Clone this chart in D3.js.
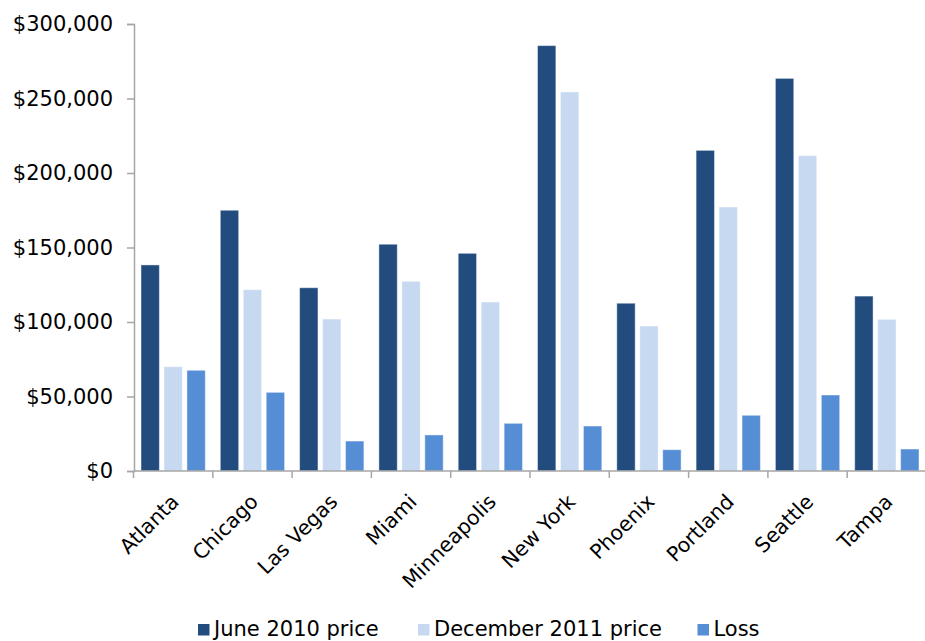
<!DOCTYPE html>
<html>
<head>
<meta charset="utf-8">
<script src="https://cdn.jsdelivr.net/npm/d3@7"></script>
<style>
  html, body { margin: 0; padding: 0; background: #fff; }
  svg { display: block; }
  text { font-family: "DejaVu Sans", Verdana, sans-serif; fill: #000; }
</style>
</head>
<body>
<svg id="chart" width="925" height="641"></svg>
<script>
const cities = ["Atlanta", "Chicago", "Las Vegas", "Miami", "Minneapolis", "New York", "Phoenix", "Portland", "Seattle", "Tampa"];
const seriesNames = ["June 2010 price", "December 2011 price", "Loss"];
const june2010 = [138300, 175000, 123000, 152200, 146100, 285500, 112600, 215200, 263500, 117400];
const dec2011 = [70000, 121700, 102000, 127300, 113400, 254400, 97300, 177200, 211600, 101800];
const loss = [67600, 52800, 20100, 24200, 32000, 30200, 14300, 37400, 51000, 14750];
const yTicks = [0, 50000, 100000, 150000, 200000, 250000, 300000];
const colors = ["#224B7E", "#C6D9F1", "#558ED5"];

const svg = d3.select("#chart");
const plotLeft = 134, plotRight = 926.5, plotTop = 24, plotBottom = 471;

const x0 = d3.scaleBand().domain(cities).range([plotLeft - 0.5, plotRight]).padding(0);
const bw = x0.bandwidth();
const x1 = d3.scaleBand().domain(seriesNames).range([7.5, bw - 7.5]).paddingInner(0.2);
const y = d3.scaleLinear().domain([0, 300000]).range([plotBottom, plotTop]);

const seriesData = [june2010, dec2011, loss];

// bars
seriesNames.forEach((s, si) => {
  svg.append("g").selectAll("rect").data(cities).join("rect")
    .attr("x", c => x0(c) + x1(s))
    .attr("y", (c, i) => y(seriesData[si][i]))
    .attr("width", x1.bandwidth())
    .attr("height", (c, i) => plotBottom - y(seriesData[si][i]))
    .attr("fill", colors[si])
    .attr("stroke", "rgba(255,255,255,0.45)")
    .attr("stroke-width", 1);
});

// y axis
const yAxis = d3.axisLeft(y).tickValues(yTicks).tickSize(7).tickPadding(14)
  .tickFormat(d => "$" + d3.format(",")(d));
const gy = svg.append("g").attr("transform", `translate(${plotLeft},0)`).call(yAxis);
gy.select(".domain").attr("stroke", "#A6A6A6").attr("stroke-width", 1.5);
gy.selectAll(".tick line").attr("stroke", "#A6A6A6").attr("stroke-width", 1.5);
gy.selectAll(".tick text").style("font-size", "21px").style("font-family", "DejaVu Sans");

// x axis baseline and ticks at band boundaries
const gx = svg.append("g");
gx.append("line").attr("x1", plotLeft).attr("x2", plotRight).attr("y1", plotBottom).attr("y2", plotBottom)
  .attr("stroke", "#A6A6A6").attr("stroke-width", 1.5);
const boundaries = cities.map(c => x0(c)).concat([x0(cities[cities.length - 1]) + bw]);
gx.selectAll("line.tk").data(boundaries).join("line").attr("class", "tk")
  .attr("x1", d => d).attr("x2", d => d).attr("y1", plotBottom).attr("y2", plotBottom + 7)
  .attr("stroke", "#A6A6A6").attr("stroke-width", 1.5);
gx.selectAll("text").data(cities).join("text")
  .attr("transform", c => `translate(${x0(c) + bw / 2 + 7},${plotBottom + 32}) rotate(-45)`)
  .attr("text-anchor", "end")
  .style("font-size", "20.5px")
  .text(c => c);

// legend
const legendX = [198, 418, 697.5];
const lg = svg.append("g");
seriesNames.forEach((s, i) => {
  lg.append("rect").attr("x", legendX[i]).attr("y", 624).attr("width", 11.5).attr("height", 11.5).attr("fill", colors[i]);
  lg.append("text").attr("x", legendX[i] + 16).attr("y", 635.5).style("font-size", "21px").text(s);
});
</script>
</body>
</html>
